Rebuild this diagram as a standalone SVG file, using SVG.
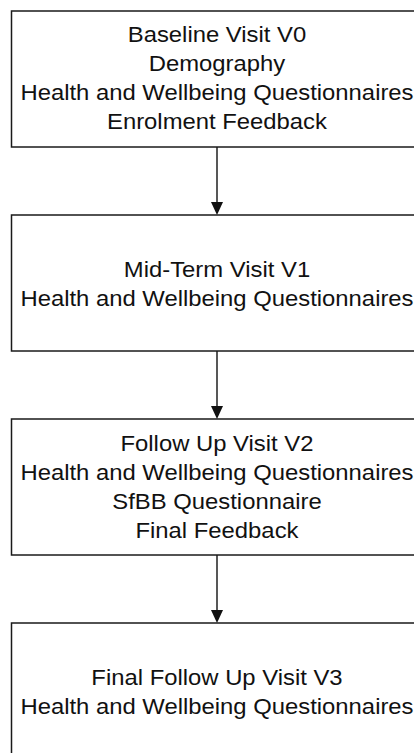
<svg xmlns="http://www.w3.org/2000/svg" width="414" height="753" viewBox="0 0 414 753">
<style>
.box{fill:#fff;stroke:#1a1a1a;stroke-width:1.5}
.t{font-family:"Liberation Sans",Arial,sans-serif;font-size:22.5px;fill:#111;text-anchor:middle}
.c{stroke:#111;stroke-width:1.4;fill:none}
.h{fill:#111}
</style>
<rect width="414" height="753" fill="#fff"/>
<g id="connectors">
<line class="c" x1="217" y1="147" x2="217" y2="203"/>
<polygon class="h" points="211,202 223,202 217,215"/>
<line class="c" x1="217" y1="351" x2="217" y2="407"/>
<polygon class="h" points="211,406 223,406 217,419"/>
<line class="c" x1="217" y1="555" x2="217" y2="611"/>
<polygon class="h" points="211,610 223,610 217,623"/>
</g>
<g id="v0">
<rect class="box" x="11.5" y="11" width="412" height="136"/>
<g transform="matrix(1.06,0,0,1,-13.02,0)">
<text class="t" x="217" y="42.5">Baseline Visit V0</text>
<text class="t" x="217" y="71.5">Demography</text>
<text class="t" x="217" y="100.3">Health and Wellbeing Questionnaires</text>
<text class="t" x="217" y="129">Enrolment Feedback</text>
</g>
</g>
<g id="v1">
<rect class="box" x="11.5" y="215" width="412" height="136"/>
<g transform="matrix(1.06,0,0,1,-13.02,0)">
<text class="t" x="217" y="277">Mid-Term Visit V1</text>
<text class="t" x="217" y="306">Health and Wellbeing Questionnaires</text>
</g>
</g>
<g id="v2">
<rect class="box" x="11.5" y="419" width="412" height="136"/>
<g transform="matrix(1.06,0,0,1,-13.02,0)">
<text class="t" x="217" y="451.5">Follow Up Visit V2</text>
<text class="t" x="217" y="480.2">Health and Wellbeing Questionnaires</text>
<text class="t" x="217" y="509">SfBB Questionnaire</text>
<text class="t" x="217" y="537.6">Final Feedback</text>
</g>
</g>
<g id="v3">
<rect class="box" x="11.5" y="623" width="412" height="136"/>
<g transform="matrix(1.06,0,0,1,-13.02,0)">
<text class="t" x="217" y="685">Final Follow Up Visit V3</text>
<text class="t" x="217" y="714">Health and Wellbeing Questionnaires</text>
</g>
</g>
</svg>
